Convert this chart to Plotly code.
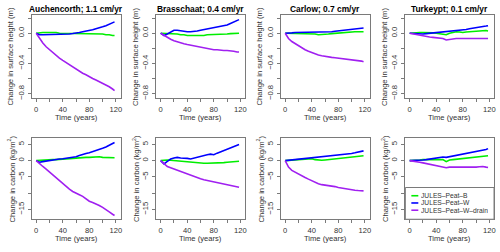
import plotly.graph_objects as go

# ---------------- data ----------------
sites = ["Auchencorth; 1.1 cm/yr", "Brasschaat; 0.4 cm/yr", "Carlow; 0.7 cm/yr", "Turkeypt; 0.1 cm/yr"]
series_names = ["JULES–Peat–B", "JULES–Peat–W", "JULES–Peat–W–drain"]
years = [0, 5, 10, 15, 20, 25, 30, 35, 40, 45, 50, 55, 60, 65, 70, 75, 80, 85, 90, 95, 100, 105, 110, 115, 118]

# surface height change (m)
height_auch_B = [0, 0.01, 0.01, 0.01, 0.01, 0.01, 0.01, 0.0, 0.0, 0.0, 0.0, 0.0, 0.0, -0.01, -0.01, 0.0, 0.0, 0.0, 0.0, -0.01, -0.01, -0.02, -0.02, -0.03, -0.03]
height_auch_W = [0, -0.02, -0.02, -0.02, -0.02, -0.015, -0.015, -0.01, -0.015, -0.01, -0.01, -0.005, 0.0, 0.01, 0.02, 0.025, 0.03, 0.045, 0.06, 0.07, 0.085, 0.10, 0.12, 0.135, 0.15]
height_auch_D = [0, -0.07, -0.13, -0.18, -0.22, -0.26, -0.30, -0.33, -0.36, -0.39, -0.42, -0.45, -0.48, -0.51, -0.53, -0.55, -0.58, -0.60, -0.62, -0.64, -0.66, -0.68, -0.71, -0.74, -0.76]

height_bras_B = [0, 0.0, 0.0, 0.0, -0.01, -0.01, -0.02, -0.02, -0.03, -0.03, -0.03, -0.03, -0.03, -0.03, -0.02, -0.02, -0.02, -0.02, -0.015, -0.01, -0.01, -0.005, 0.0, 0.0, 0.0]
height_bras_W = [0, -0.03, -0.01, 0.02, 0.04, 0.04, 0.03, 0.03, 0.02, 0.02, 0.03, 0.03, 0.04, 0.05, 0.06, 0.06, 0.07, 0.08, 0.09, 0.10, 0.11, 0.13, 0.15, 0.17, 0.18]
height_bras_D = [0, -0.03, -0.06, -0.08, -0.10, -0.11, -0.12, -0.14, -0.15, -0.16, -0.17, -0.18, -0.19, -0.20, -0.21, -0.21, -0.22, -0.22, -0.23, -0.23, -0.23, -0.24, -0.24, -0.25, -0.25]

height_carl_B = [0, 0.0, 0.0, 0.0, 0.0, 0.0, 0.0, 0.0, -0.005, -0.01, -0.02, -0.02, -0.01, -0.01, -0.005, 0.0, 0.0, 0.005, 0.01, 0.01, 0.015, 0.02, 0.02, 0.02, 0.02]
height_carl_W = [0, 0.0, 0.005, 0.01, 0.01, 0.015, 0.02, 0.02, 0.02, 0.015, 0.01, 0.015, 0.02, 0.02, 0.02, 0.025, 0.03, 0.035, 0.04, 0.045, 0.05, 0.055, 0.06, 0.065, 0.07]
height_carl_D = [0, -0.07, -0.11, -0.14, -0.17, -0.20, -0.22, -0.24, -0.26, -0.28, -0.29, -0.30, -0.31, -0.315, -0.32, -0.325, -0.33, -0.335, -0.34, -0.345, -0.35, -0.36, -0.365, -0.37, -0.38]

height_turk_B = [0, 0.005, 0.01, 0.01, 0.01, 0.01, 0.01, 0.005, 0.0, -0.005, -0.01, -0.02, 0.0, 0.01, 0.02, 0.015, 0.01, 0.015, 0.02, 0.025, 0.03, 0.035, 0.04, 0.035, 0.03]
height_turk_W = [0, -0.005, -0.01, -0.01, -0.01, -0.005, 0.0, 0.005, 0.01, 0.015, 0.02, 0.02, 0.025, 0.03, 0.03, 0.035, 0.04, 0.05, 0.06, 0.065, 0.07, 0.08, 0.09, 0.095, 0.10]
height_turk_D = [0, -0.01, -0.02, -0.03, -0.04, -0.045, -0.05, -0.055, -0.06, -0.065, -0.07, -0.09, -0.08, -0.075, -0.07, -0.07, -0.07, -0.065, -0.065, -0.06, -0.06, -0.06, -0.06, -0.065, -0.07]

# carbon change (kg/m2)
carbon_auch_B = [0, 0.1, 0.2, 0.2, 0.3, 0.3, 0.3, 0.4, 0.5, 0.5, 0.6, 0.7, 0.8, 0.8, 0.9, 1.0, 1.0, 1.1, 1.2, 1.2, 1.0, 1.0, 0.9, 0.9, 0.9]
carbon_auch_W = [0, -0.5, -0.3, -0.1, 0.0, 0.2, 0.4, 0.5, 0.6, 0.7, 0.8, 1.0, 1.2, 1.6, 2.0, 2.2, 2.4, 2.7, 3.0, 3.4, 3.8, 4.2, 4.7, 5.2, 5.6]
carbon_auch_D = [0, -1.0, -1.8, -2.6, -3.5, -4.5, -5.4, -6.4, -7.2, -8.0, -8.8, -9.5, -10.1, -10.5, -11.0, -11.8, -12.5, -12.9, -13.3, -13.8, -14.4, -15.0, -15.8, -16.5, -16.9]

carbon_bras_B = [0, 0.2, 0.2, 0.1, 0.0, -0.1, -0.3, -0.4, -0.5, -0.5, -0.6, -0.7, -0.8, -0.8, -0.8, -0.8, -0.8, -0.8, -0.7, -0.6, -0.5, -0.4, -0.3, -0.3, -0.2]
carbon_bras_W = [0, -1.0, -0.2, 0.5, 0.8, 1.0, 0.8, 0.8, 0.7, 0.5, 0.8, 1.0, 1.3, 1.6, 1.8, 2.0, 1.8, 2.3, 2.7, 3.0, 3.4, 3.8, 4.3, 4.8, 5.0]
carbon_bras_D = [0, -1.0, -1.8, -2.2, -2.6, -3.0, -3.3, -3.8, -4.2, -4.6, -5.0, -5.3, -5.6, -5.9, -6.1, -6.3, -6.6, -6.8, -7.0, -7.1, -7.3, -7.5, -7.8, -8.0, -8.2]

carbon_carl_B = [0, 0.1, 0.2, 0.3, 0.3, 0.4, 0.5, 0.5, 0.6, 0.3, 0.1, 0.1, 0.2, 0.3, 0.5, 0.5, 0.6, 0.7, 0.8, 0.9, 1.0, 1.1, 1.3, 1.4, 1.5]
carbon_carl_W = [0, 0.1, 0.3, 0.4, 0.5, 0.6, 0.8, 0.9, 1.0, 0.9, 1.0, 1.1, 1.2, 1.3, 1.4, 1.5, 1.6, 1.7, 1.9, 2.0, 2.2, 2.4, 2.6, 2.8, 3.0]
carbon_carl_D = [0, -2.0, -3.0, -3.6, -4.2, -4.7, -5.2, -5.7, -6.2, -6.7, -7.1, -7.4, -7.5, -7.7, -7.8, -8.0, -8.3, -8.5, -8.7, -8.9, -9.0, -9.1, -9.2, -9.3, -9.3]

carbon_turk_B = [0, 0.0, 0.1, 0.2, 0.3, 0.3, 0.2, 0.3, 0.4, 0.4, 0.3, -0.3, 0.2, 0.3, 0.4, 0.5, 0.6, 0.7, 0.8, 0.9, 1.1, 1.2, 1.4, 1.5, 1.5]
carbon_turk_W = [0, 0.0, 0.0, 0.1, 0.2, 0.3, 0.5, 0.6, 0.8, 1.0, 1.1, 1.0, 1.2, 1.4, 1.6, 1.8, 2.0, 2.1, 2.3, 2.4, 2.6, 2.8, 3.1, 3.4, 3.7]
carbon_turk_D = [0, -0.1, -0.3, -0.5, -0.7, -0.9, -1.1, -1.3, -1.5, -1.7, -1.9, -2.2, -2.0, -2.0, -2.0, -2.1, -2.2, -2.2, -2.1, -2.0, -2.0, -1.9, -1.8, -2.0, -2.1]

height_data = [
    [height_auch_B, height_auch_W, height_auch_D],
    [height_bras_B, height_bras_W, height_bras_D],
    [height_carl_B, height_carl_W, height_carl_D],
    [height_turk_B, height_turk_W, height_turk_D],
]
carbon_data = [
    [carbon_auch_B, carbon_auch_W, carbon_auch_D],
    [carbon_bras_B, carbon_bras_W, carbon_bras_D],
    [carbon_carl_B, carbon_carl_W, carbon_carl_D],
    [carbon_turk_B, carbon_turk_W, carbon_turk_D],
]

x_tickvals = [0, 40, 80, 120]
x_ticktext = ["0", "40", "80", "120"]
x_minor = [20, 60, 100]
h_tickvals = [0.0, -0.4, -0.8]
h_ticktext = ["0.0", "−0.4", "−0.8"]
h_minor = [0.2, -0.2, -0.6]
c_tickvals = [5, 0, -5, -15]
c_ticktext = ["5", "0", "−5", "−15"]
c_minor = [-10]

# ---------------- style / layout ----------------
W, H = 500, 252
colors = ["#00ee00", "#0000ff", "#a020f0"]
FONT = "Liberation Sans, Arial, sans-serif"
TXT = "#333333"
BOX = "#7a7a7a"
PANEL_PITCH = 125
BOX_LEFT = 32
BOX_W = 89
ROW_TOP = [15, 139]
ROW_BOT = [99, 221]
X_RANGE = [-6.5, 127]
H_RANGE = [-0.862, 0.243]
C_RANGE = [-18.05, 7.0]


def px_x(v):
    return v / W


def px_y(v):
    return 1 - v / H


fig = go.Figure()
annotations = []
shapes = []

for row in range(2):
    for col in range(4):
        idx = row * 4 + col + 1
        xa = "x" if idx == 1 else f"x{idx}"
        ya = "y" if idx == 1 else f"y{idx}"
        left = col * PANEL_PITCH + BOX_LEFT
        right = left + BOX_W
        top, bot = ROW_TOP[row], ROW_BOT[row]
        data = height_data[col] if row == 0 else carbon_data[col]
        for s in range(3):
            fig.add_trace(go.Scatter(
                x=years, y=data[s], mode="lines", xaxis=xa, yaxis=ya,
                line=dict(color=colors[s], width=1.6), showlegend=False,
                name=series_names[s]))
        axis_common = dict(
            showgrid=False, zeroline=False, showline=True, mirror=True,
            linecolor=BOX, linewidth=1, ticks="outside", ticklen=3,
            tickcolor=BOX, tickwidth=1,
            tickfont=dict(family=FONT, size=7.6, color=TXT),
        )
        minor_common = dict(ticks="outside", ticklen=3, tickcolor=BOX, tickwidth=1, showgrid=False)
        fig.layout[f"xaxis{'' if idx == 1 else idx}"] = dict(
            axis_common, domain=[px_x(left), px_x(right)], range=X_RANGE,
            tickmode="array", tickvals=x_tickvals, ticktext=x_ticktext,
            minor=dict(minor_common, tickmode="array", tickvals=x_minor),
            anchor=ya, ticklabelstandoff=1)
        fig.layout[f"yaxis{'' if idx == 1 else idx}"] = dict(
            axis_common, domain=[px_y(bot), px_y(top)],
            range=H_RANGE if row == 0 else C_RANGE,
            tickmode="array",
            tickvals=h_tickvals if row == 0 else c_tickvals,
            ticktext=h_ticktext if row == 0 else c_ticktext,
            minor=dict(minor_common, tickmode="array", tickvals=h_minor if row == 0 else c_minor),
            tickangle=-90, anchor=xa, ticklabelstandoff=1)
        cx = (left + right) / 2
        cy = (top + bot) / 2
        # x axis title
        annotations.append(dict(
            x=px_x(cx), y=px_y(bot + 19.5), xref="paper", yref="paper",
            text="Time (years)", showarrow=False, xanchor="center", yanchor="middle",
            font=dict(family=FONT, size=7.6, color=TXT)))
        # y axis title
        ytitle = "Change in surface height (m)" if row == 0 else "Change in carbon (kg/m<sup>2</sup>)"
        annotations.append(dict(
            x=px_x(left - 21), y=px_y(cy), xref="paper", yref="paper",
            text=ytitle, showarrow=False, textangle=-90, xanchor="center", yanchor="middle",
            font=dict(family=FONT, size=7.6, color=TXT)))
        if row == 0:
            annotations.append(dict(
                x=px_x(cx), y=px_y(9.5), xref="paper", yref="paper",
                text=f"<b>{sites[col]}</b>", showarrow=False, xanchor="center", yanchor="middle",
                font=dict(family=FONT, size=8.4, color="#000")))

# legend drawn in the last panel
leg_left = 3 * PANEL_PITCH + BOX_LEFT
leg_right = leg_left + BOX_W
leg_top = 189
shapes.append(dict(type="rect", xref="paper", yref="paper",
                   x0=px_x(leg_left), x1=px_x(leg_right), y0=px_y(ROW_BOT[1]), y1=px_y(leg_top),
                   line=dict(color=BOX, width=1), fillcolor="white", layer="above"))
for s in range(3):
    yy = 197.3 + 7.3 * s
    shapes.append(dict(type="line", xref="paper", yref="paper",
                       x0=px_x(leg_left + 6), x1=px_x(leg_left + 13), y0=px_y(yy), y1=px_y(yy),
                       line=dict(color=colors[s], width=1.6), layer="above"))
    annotations.append(dict(
        x=px_x(leg_left + 14.5), y=px_y(yy), xref="paper", yref="paper",
        text=series_names[s], showarrow=False, xanchor="left", yanchor="middle",
        height=7, borderpad=0,
        font=dict(family=FONT, size=6.7, color=TXT)))

fig.update_layout(
    width=W, height=H, margin=dict(l=0, r=0, t=0, b=0),
    paper_bgcolor="white", plot_bgcolor="white",
    annotations=annotations, shapes=shapes, showlegend=False,
)

fig.write_html("out.html", config={"displayModeBar": False},
               post_script="document.body.style.margin='0';document.body.style.overflow='hidden';")
